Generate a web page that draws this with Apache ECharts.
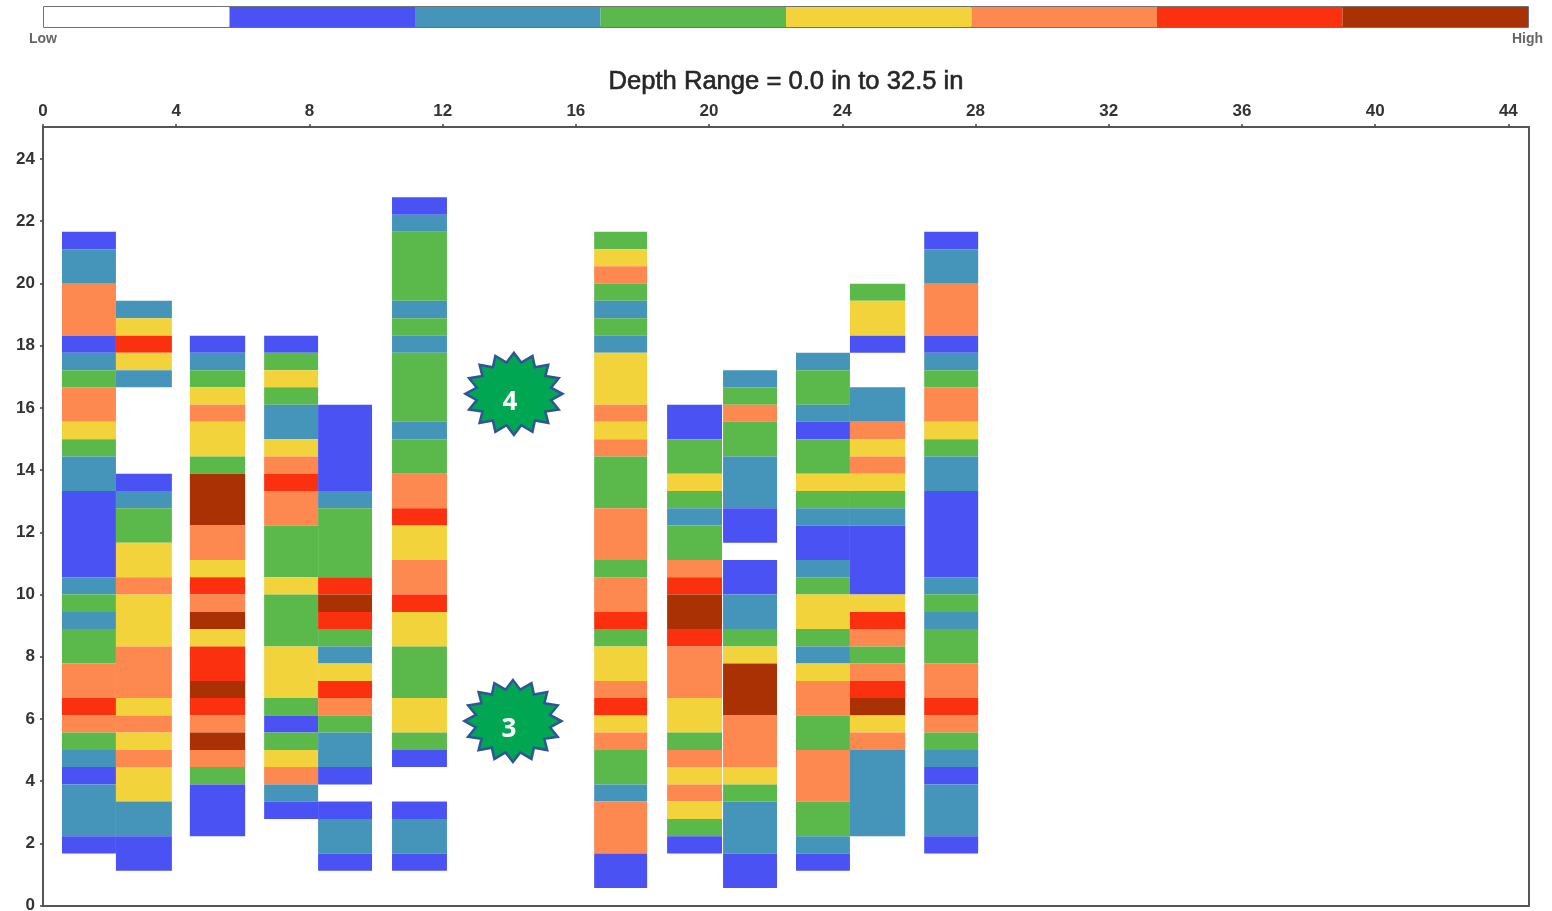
<!DOCTYPE html>
<html>
<head>
<meta charset="utf-8">
<style>html,body{margin:0;padding:0;background:#fff}#c{width:1552px;height:911px}</style>
<script src="https://cdn.jsdelivr.net/npm/echarts@6/dist/echarts.min.js"></script>
</head>
<body>
<div id="c"></div>
<script>
// Colour classes: 1 blue, 2 teal, 3 green, 4 yellow, 5 orange, 6 red, 7 dark red
const levelColors = ['#ffffff','#4a52f4','#4594ba','#5bb94b','#f2d33b','#fd8850','#fb300e','#aa3104'];
const legendLevels = [0,1,2,3,4,5,6,7];
const xTicks = [0,4,8,12,16,20,24,28,32,36,40,44];
const yTicks = [0,2,4,6,8,10,12,14,16,18,20,22,24];
const titleText = 'Depth Range = 0.0 in to 32.5 in';

// Band edges on the vertical axis
const bandEdges = [0.56,1.12,1.67,2.23,2.78,3.34,3.89,4.45,5.00,5.56,6.11,6.67,7.22,7.78,8.33,8.89,9.44,10.00,10.55,11.11,11.66,12.22,12.77,13.33,13.88,14.44,14.99,15.55,16.10,16.66,17.21,17.77,18.32,18.88,19.44,19.99,20.55,21.10,21.66,22.21,22.77];

// Columns: left and right edge, then segments [upper band, lower band, level], top to bottom
const col1X = [0.57,2.19];
const col1 = [[38,37,1],[37,35,2],[35,32,5],[32,31,1],[31,30,2],[30,29,3],[29,27,5],[27,26,4],[26,25,3],[25,23,2],[23,18,1],[18,17,2],[17,16,3],[16,15,2],[15,13,3],[13,11,5],[11,10,6],[10,9,5],[9,8,3],[8,7,2],[7,6,1],[6,3,2],[3,2,1]];
const col2X = [2.19,3.87];
const col2 = [[34,33,2],[33,32,4],[32,31,6],[31,30,4],[30,29,2],[24,23,1],[23,22,2],[22,20,3],[20,18,4],[18,17,5],[17,14,4],[14,11,5],[11,10,4],[10,9,5],[9,8,4],[8,7,5],[7,5,4],[5,3,2],[3,1,1]];
const col3X = [4.41,6.07];
const col3 = [[32,31,1],[31,30,2],[30,29,3],[29,28,4],[28,27,5],[27,25,4],[25,24,3],[24,21,7],[21,19,5],[19,18,4],[18,17,6],[17,16,5],[16,15,7],[15,14,4],[14,12,6],[12,11,7],[11,10,6],[10,9,5],[9,8,7],[8,7,5],[7,6,3],[6,3,1]];
const col4X = [6.64,8.26];
const col4 = [[32,31,1],[31,30,3],[30,29,4],[29,28,3],[28,26,2],[26,25,4],[25,24,5],[24,23,6],[23,21,5],[21,18,3],[18,17,4],[17,14,3],[14,11,4],[11,10,3],[10,9,1],[9,8,3],[8,7,4],[7,6,5],[6,5,2],[5,4,1]];
const col5X = [8.26,9.88];
const col5 = [[28,23,1],[23,22,2],[22,18,3],[18,17,6],[17,16,7],[16,15,6],[15,14,3],[14,13,2],[13,12,4],[12,11,6],[11,10,5],[10,9,3],[9,7,2],[7,6,1],[5,4,1],[4,2,2],[2,1,1]];
const col6X = [10.48,12.13];
const col6 = [[40,39,1],[39,38,2],[38,34,3],[34,33,2],[33,32,3],[32,31,2],[31,27,3],[27,26,2],[26,24,3],[24,22,5],[22,21,6],[21,19,4],[19,17,5],[17,16,6],[16,14,4],[14,11,3],[11,9,4],[9,8,3],[8,7,1],[5,4,1],[4,2,2],[2,1,1]];
const col7X = [16.55,18.14];
const col7 = [[38,37,3],[37,36,4],[36,35,5],[35,34,3],[34,33,2],[33,32,3],[32,31,2],[31,28,4],[28,27,5],[27,26,4],[26,25,5],[25,22,3],[22,19,5],[19,18,3],[18,16,5],[16,15,6],[15,14,3],[14,12,4],[12,11,5],[11,10,6],[10,9,4],[9,8,5],[8,6,3],[6,5,2],[5,2,5],[2,0,1]];
const col8X = [18.74,20.39];
const col8 = [[28,26,1],[26,24,3],[24,23,4],[23,22,3],[22,21,2],[21,19,3],[19,18,5],[18,17,6],[17,15,7],[15,14,6],[14,11,5],[11,9,4],[9,8,3],[8,7,5],[7,6,4],[6,5,5],[5,4,4],[4,3,3],[3,2,1]];
const col9X = [20.42,22.04];
const col9 = [[30,29,2],[29,28,3],[28,27,5],[27,25,3],[25,22,2],[22,20,1],[19,17,1],[17,15,2],[15,14,3],[14,13,4],[13,10,7],[10,7,5],[7,6,4],[6,5,3],[5,2,2],[2,0,1]];
const col10X = [22.61,24.23];
const col10 = [[31,30,2],[30,28,3],[28,27,2],[27,26,1],[26,24,3],[24,23,4],[23,22,3],[22,21,2],[21,19,1],[19,18,2],[18,17,3],[17,15,4],[15,14,3],[14,13,2],[13,12,4],[12,10,5],[10,8,3],[8,5,5],[5,3,3],[3,2,2],[2,1,1]];
const col11X = [24.23,25.89];
const col11 = [[35,34,3],[34,32,4],[32,31,1],[29,27,2],[27,26,5],[26,25,4],[25,24,5],[24,23,4],[23,22,3],[22,21,2],[21,17,1],[17,16,4],[16,15,6],[15,14,5],[14,13,3],[13,12,5],[12,11,6],[11,10,7],[10,9,4],[9,8,5],[8,3,2]];
const col12X = [26.46,28.08];
const col12 = [[38,37,1],[37,35,2],[35,32,5],[32,31,1],[31,30,2],[30,29,3],[29,27,5],[27,26,4],[26,25,3],[25,23,2],[23,18,1],[18,17,2],[17,16,3],[16,15,2],[15,13,3],[13,11,5],[11,10,6],[10,9,5],[9,8,3],[8,7,2],[7,6,1],[6,3,2],[3,2,1]];

// Numbered badges
const badgeX = [14.14,14.11];
const badgeY = [16.45,5.93];
const badgeText = ['4','3'];

const columns = [[col1X,col1],[col2X,col2],[col3X,col3],[col4X,col4],[col5X,col5],[col6X,col6],[col7X,col7],[col8X,col8],[col9X,col9],[col10X,col10],[col11X,col11],[col12X,col12]];
const cells = [];
columns.forEach(([xs,segs]) => segs.forEach(s => cells.push([xs[0],xs[1],bandEdges[s[1]],bandEdges[s[0]],s[2]])));

const axisLine = {show:true,onZero:false,lineStyle:{color:'#555',width:2}};
const tickStyle = {show:true,length:3,lineStyle:{color:'#444',width:1.5}};
const labelFont = {color:'#333',fontFamily:'Liberation Sans',fontWeight:'bold',fontSize:17};

const chart = echarts.init(document.getElementById('c'),null,{renderer:'canvas'});
chart.setOption({
  animation:false,
  backgroundColor:'#fff',
  title:{text:titleText,left:781,top:64,textAlign:'center',
    textStyle:{fontFamily:'Liberation Sans',fontSize:25.6,fontWeight:'normal',color:'#262626',textBorderColor:'#262626',textBorderWidth:0.6}},
  grid:[
    {left:43,top:127,width:1486,height:778.5,show:false,outerBoundsMode:'none'},
    {left:44,top:7,width:1484,height:20,show:true,borderColor:'#444',borderWidth:1.5,backgroundColor:'#fff',outerBoundsMode:'none'}
  ],
  xAxis:[
    {gridIndex:0,type:'value',position:'top',min:0,max:44.62,splitLine:{show:false},
     axisLine:axisLine,axisTick:Object.assign({customValues:xTicks},tickStyle),
     axisLabel:Object.assign({customValues:xTicks,margin:7,formatter:v=>String(v)},labelFont)},
    {gridIndex:0,type:'value',position:'bottom',min:0,max:44.62,splitLine:{show:false},
     axisLine:axisLine,axisTick:{show:false},axisLabel:{show:false}},
    {gridIndex:1,type:'value',min:0,max:8,show:false}
  ],
  yAxis:[
    {gridIndex:0,type:'value',position:'left',min:0,max:25.03,splitLine:{show:false},
     axisLine:axisLine,axisTick:Object.assign({customValues:yTicks},tickStyle),
     axisLabel:Object.assign({customValues:yTicks,margin:8,padding:[0,0,9,0],formatter:v=>String(v)},labelFont)},
    {gridIndex:0,type:'value',position:'right',min:0,max:25.03,splitLine:{show:false},
     axisLine:axisLine,axisTick:{show:false},axisLabel:{show:false}},
    {gridIndex:1,type:'value',min:0,max:1,show:false}
  ],
  series:[
    {type:'custom',xAxisIndex:0,yAxisIndex:0,coordinateSystem:'cartesian2d',silent:true,
     data:cells,encode:{x:[0,1],y:[2,3]},
     renderItem:(p,api)=>{
       const a=api.coord([api.value(0),api.value(3)]), b=api.coord([api.value(1),api.value(2)]);
       return {type:'rect',shape:{x:a[0],y:a[1],width:b[0]-a[0],height:b[1]-a[1]},
         style:{fill:levelColors[api.value(4)],stroke:null}};
     }},
    {type:'custom',xAxisIndex:2,yAxisIndex:2,coordinateSystem:'cartesian2d',silent:true,
     data:legendLevels.map((l,i)=>[i,i+1,l]),encode:{x:[0,1]},
     renderItem:(p,api)=>{
       const a=api.coord([api.value(0),1]), b=api.coord([api.value(1),0]);
       return {type:'rect',shape:{x:a[0],y:a[1],width:b[0]-a[0],height:b[1]-a[1]},
         style:{fill:levelColors[api.value(2)]}};
     }},
    {type:'custom',xAxisIndex:0,yAxisIndex:0,coordinateSystem:'cartesian2d',silent:true,z:5,
     data:badgeX.map((x,i)=>[x,badgeY[i],badgeText[i]]),encode:{x:0,y:1},
     renderItem:(p,api)=>{
       const c=api.coord([api.value(0),api.value(1)]), pts=[], n=16;
       for(let k=0;k<2*n;k++){
         const t=Math.PI*k/n, f=k%2?0.78:1;
         pts.push([c[0]+48.5*f*Math.cos(t),c[1]+41*f*Math.sin(t)]);
       }
       return {type:'group',children:[
         {type:'polygon',shape:{points:pts},style:{fill:'#00a651',stroke:'#2f5597',lineWidth:2.5}},
         {type:'text',style:{text:String(api.value(2)),x:c[0]-4,y:c[1]+9,align:'center',verticalAlign:'middle',
           fill:'#fff',font:'bold 26px "Open Sans"'}}
       ]};
     }}
  ],
  graphic:[
    {type:'text',left:29,top:32,style:{text:'Low',fill:'#666',font:'bold 14px "Liberation Sans"'}},
    {type:'text',left:1512,top:32,style:{text:'High',fill:'#666',font:'bold 14px "Liberation Sans"'}}
  ]
});
</script>
</body>
</html>
